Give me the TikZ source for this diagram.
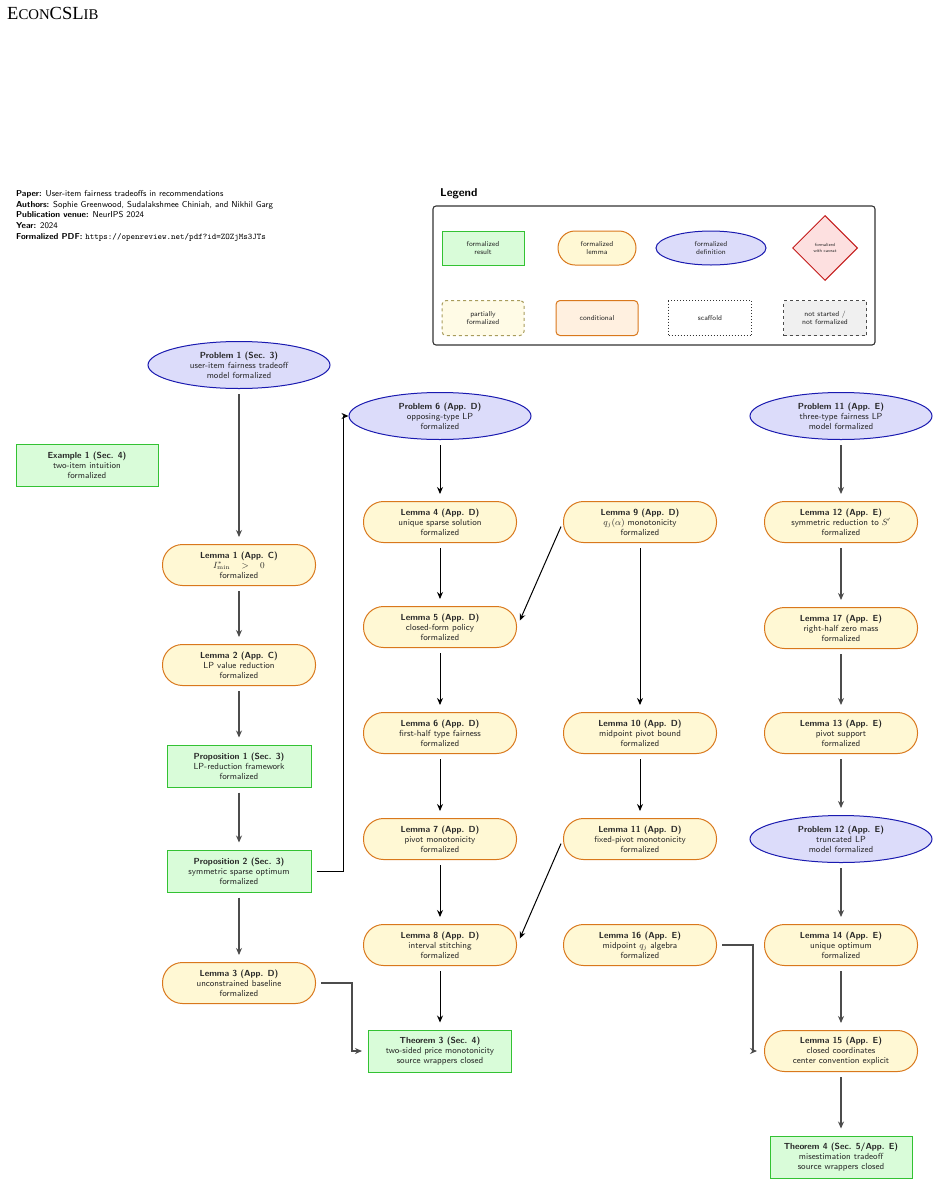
\documentclass[tikz,border=0pt]{standalone}
\usepackage{fontspec}
\usepackage{amsmath, amssymb}
\usepackage{tikz}
\usetikzlibrary{arrows.meta, shapes.geometric}
\newfontfamily\brandfont{Liberation Serif}

\definecolor{resfill}{HTML}{D9FCD9}
\definecolor{resline}{HTML}{33C233}
\definecolor{lemfill}{HTML}{FFF8D4}
\definecolor{lemline}{HTML}{D9781C}
\definecolor{deffill}{HTML}{DCDCFA}
\definecolor{defline}{HTML}{1A1AB0}
\definecolor{cavfill}{HTML}{FDE0E0}
\definecolor{cavline}{HTML}{C41A1A}
\definecolor{partfill}{HTML}{FFFBE6}
\definecolor{partline}{HTML}{A89C5C}
\definecolor{condfill}{HTML}{FFF0E0}
\definecolor{todofill}{HTML}{F0F0F0}

\begin{document}
\begin{tikzpicture}[x=1pt, y=-1pt,
  every node/.style={font=\sffamily\fontsize{8.8}{10}\selectfont, align=center, text=black!85},
  result/.style={draw=resline, fill=resfill, line width=1pt, minimum width=143pt, minimum height=42pt, inner sep=1pt},
  lemma/.style={draw=lemline, fill=lemfill, line width=1pt, rounded corners=20pt, minimum width=153pt, minimum height=41pt, inner sep=1pt},
  defn/.style={ellipse, draw=defline, fill=deffill, line width=1pt, minimum width=182pt, minimum height=47pt, inner sep=0pt},
  legitem/.style={font=\sffamily\fontsize{7.2}{8.6}\selectfont, line width=1pt, minimum width=82pt, minimum height=34pt, inner sep=1pt},
  arr/.style={-{Stealth[length=7pt, width=6pt]}, line width=1pt, shorten <=5pt, shorten >=7pt},
  garr/.style={arr, draw=black!70, line width=1.1pt}]
  \useasboundingbox (0,0) rectangle (939,1184);

  % Header
  \node[anchor=base west, inner sep=0pt, text=black, font=\brandfont\fontsize{18.5}{18}\selectfont] (brand) at (7,19.5)
    {E{\fontsize{14.8}{14}\selectfont CON}CSL{\fontsize{14.8}{14}\selectfont IB}};
  \node[anchor=north west, align=left, inner sep=0pt, text=black, font=\sffamily\fontsize{8.6}{10.8}\selectfont] (meta) at (16,190)
    {\textbf{Paper:} User-item fairness tradeoffs in recommendations\\
     \textbf{Authors:} Sophie Greenwood, Sudalakshmee Chiniah, and Nikhil Garg\\
     \textbf{Publication venue:} NeurIPS 2024\\
     \textbf{Year:} 2024\\
     \textbf{Formalized PDF:} \texttt{https://openreview.net/pdf?id=ZOZjMs3JTs}};

  % Legend
  \node[anchor=west, inner sep=0pt, text=black, font=\sffamily\bfseries\fontsize{11.4}{12}\selectfont] (legtitle) at (440,194) {Legend};
  \draw[rounded corners=3pt, line width=1.1pt, draw=black!80] (433,206) rectangle (875,345);
  \node[legitem, draw=resline, fill=resfill] (legres) at (483,248) {formalized\\result};
  \node[legitem, draw=lemline, fill=lemfill, rounded corners=17pt, minimum width=78pt] (leglem) at (597,248) {formalized\\lemma};
  \node[legitem, ellipse, draw=defline, fill=deffill, minimum width=110pt, inner sep=0pt] (legdef) at (711,248) {formalized\\definition};
  \node[legitem, diamond, draw=cavline, fill=cavfill, minimum width=65pt, minimum height=65pt, inner sep=0pt,
        font=\sffamily\fontsize{4.5}{5.5}\selectfont] (legcav) at (825,248) {formalized\\with caveat};
  \node[legitem, dashed, draw=partline, fill=partfill, rounded corners=4pt, minimum height=35pt] (legpart) at (483,318) {partially\\formalized};
  \node[legitem, draw=lemline, fill=condfill, rounded corners=4pt, minimum height=35pt] (legcond) at (597,318) {conditional};
  \node[legitem, dotted, draw=black!80, fill=white, minimum width=83pt, minimum height=35pt] (legscaf) at (710,318) {scaffold};
  \node[legitem, dashed, draw=black!70, fill=todofill, minimum width=83pt, minimum height=35pt] (legtodo) at (825,318) {not started /\\not formalized};

  % Section 3/4 column
  \node[defn] (p1) at (239,365) {\textbf{Problem 1 (Sec. 3)}\\user-item fairness tradeoff\\model formalized};
  \node[result, minimum width=142pt] (ex1) at (87,465) {\textbf{Example 1 (Sec. 4)}\\two-item intuition\\formalized};
  \node[lemma] (l1) at (239,565) {\textbf{Lemma 1 (App. C)}\\$I^*_{\min}\quad>\quad0$\\formalized};
  \node[lemma] (l2) at (239,665) {\textbf{Lemma 2 (App. C)}\\LP value reduction\\formalized};
  \node[result, minimum width=144pt] (prop1) at (239,766) {\textbf{Proposition 1 (Sec. 3)}\\LP-reduction framework\\formalized};
  \node[result, minimum width=144pt] (prop2) at (239,871) {\textbf{Proposition 2 (Sec. 3)}\\symmetric sparse optimum\\formalized};
  \node[lemma] (l3) at (239,983) {\textbf{Lemma 3 (App. D)}\\unconstrained baseline\\formalized};

  % Appendix D
  \node[defn] (p6) at (440,416) {\textbf{Problem 6 (App. D)}\\opposing-type LP\\formalized};
  \node[lemma] (l4) at (440,522) {\textbf{Lemma 4 (App. D)}\\unique sparse solution\\formalized};
  \node[lemma] (l5) at (440,627) {\textbf{Lemma 5 (App. D)}\\closed-form policy\\formalized};
  \node[lemma] (l6) at (440,733) {\textbf{Lemma 6 (App. D)}\\first-half type fairness\\formalized};
  \node[lemma] (l7) at (440,839) {\textbf{Lemma 7 (App. D)}\\pivot monotonicity\\formalized};
  \node[lemma] (l8) at (440,945) {\textbf{Lemma 8 (App. D)}\\interval stitching\\formalized};
  \node[result] (th3) at (440,1051) {\textbf{Theorem 3 (Sec. 4)}\\two-sided price monotonicity\\source wrappers closed};
  \node[lemma] (l9) at (640,522) {\textbf{Lemma 9 (App. D)}\\$q_j(\alpha)$ monotonicity\\formalized};
  \node[lemma] (l10) at (640,733) {\textbf{Lemma 10 (App. D)}\\midpoint pivot bound\\formalized};
  \node[lemma] (l11) at (640,839) {\textbf{Lemma 11 (App. D)}\\fixed-pivot monotonicity\\formalized};
  \node[lemma] (l16) at (640,945) {\textbf{Lemma 16 (App. E)}\\midpoint $q_j$ algebra\\formalized};

  % Appendix E
  \node[defn] (p11) at (841,416) {\textbf{Problem 11 (App. E)}\\three-type fairness LP\\model formalized};
  \node[lemma] (l12) at (841,522) {\textbf{Lemma 12 (App. E)}\\symmetric reduction to $S'$\\formalized};
  \node[lemma] (l17) at (841,628) {\textbf{Lemma 17 (App. E)}\\right-half zero mass\\formalized};
  \node[lemma] (l13) at (841,733) {\textbf{Lemma 13 (App. E)}\\pivot support\\formalized};
  \node[defn] (p12) at (841,839) {\textbf{Problem 12 (App. E)}\\truncated LP\\model formalized};
  \node[lemma] (l14) at (841,945) {\textbf{Lemma 14 (App. E)}\\unique optimum\\formalized};
  \node[lemma] (l15) at (841,1051) {\textbf{Lemma 15 (App. E)}\\closed coordinates\\center convention explicit};
  \node[result, minimum width=142pt] (th4) at (841,1157) {\textbf{Theorem 4 (Sec. 5/App. E)}\\misestimation tradeoff\\source wrappers closed};

  % Dependencies
  \draw[garr] (p1) -- (l1);
  \draw[garr] (l1) -- (l2);
  \draw[garr] (l2) -- (prop1);
  \draw[garr] (prop1) -- (prop2);
  \draw[garr] (prop2) -- (l3);
  \draw[garr, shorten >=6pt] (l3.east) -- ++(36,0) |- (th3.west);
  \draw[arr, shorten >=0pt] (prop2.east) -- ++(32,0) |- (p6.west);
  \draw[arr] (p6) -- (l4);
  \draw[arr] (l4) -- (l5);
  \draw[arr] (l5) -- (l6);
  \draw[arr] (l6) -- (l7);
  \draw[arr] (l7) -- (l8);
  \draw[arr] (l8) -- (th3);
  \draw[arr] (l9.west) -- (l5.east);
  \draw[arr] (l9) -- (l10);
  \draw[arr] (l10) -- (l11);
  \draw[arr] (l11.west) -- (l8.east);
  \draw[garr] (p11) -- (l12);
  \draw[garr] (l12) -- (l17);
  \draw[garr] (l17) -- (l13);
  \draw[garr] (l13) -- (p12);
  \draw[garr] (p12) -- (l14);
  \draw[garr] (l14) -- (l15);
  \draw[garr] (l15) -- (th4);
  \draw[garr] (l16.east) -- ++(36,0) |- (l15.west);
\end{tikzpicture}
\end{document}
